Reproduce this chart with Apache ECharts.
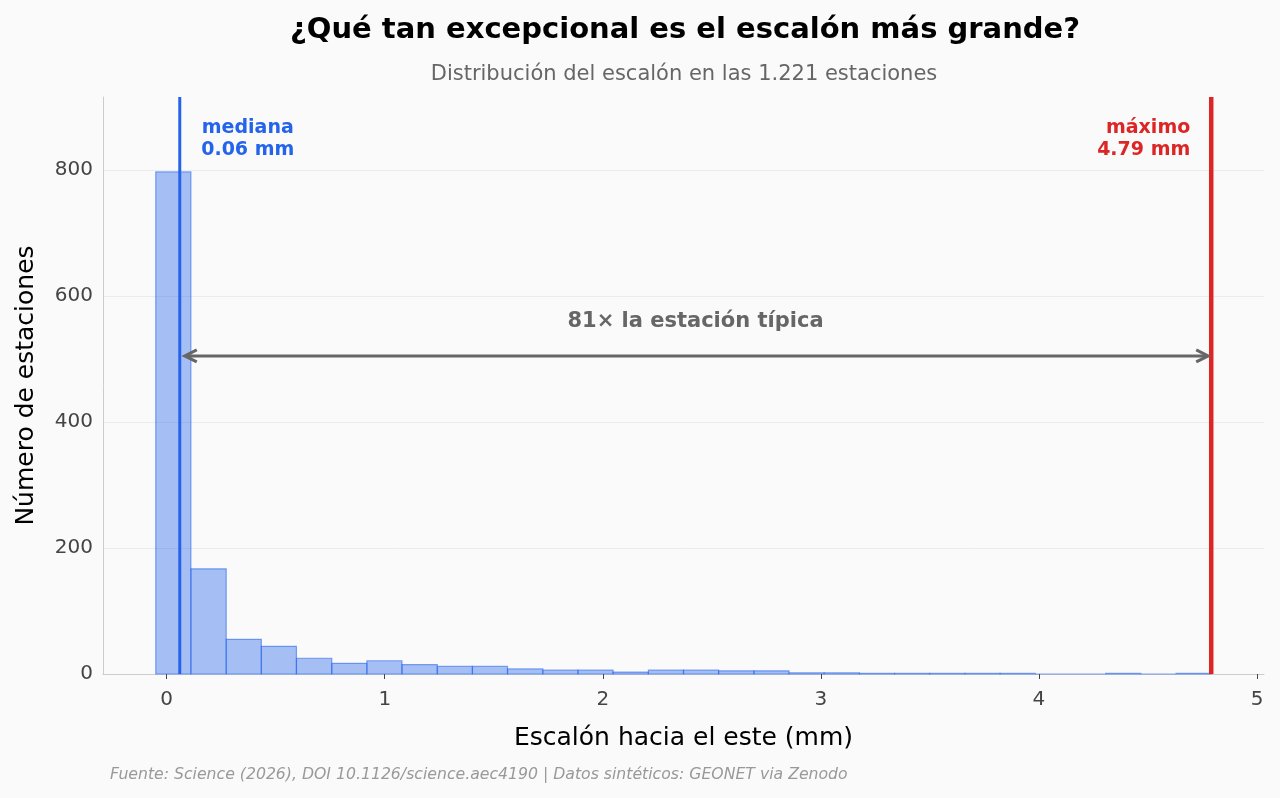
<!DOCTYPE html>
<html>
<head>
<meta charset="utf-8">
<script src="https://cdn.jsdelivr.net/npm/echarts@6/dist/echarts.min.js"></script>
<style>
html, body { margin: 0; padding: 0; background: #fafafa; }
#chart { width: 1280px; height: 798px; }
</style>
</head>
<body>
<div id="chart"></div>
<script>
// bordes de las clases del histograma (mm)
var binEdges = [-0.050, 0.111, 0.273, 0.434, 0.595, 0.757, 0.918, 1.079, 1.241, 1.402,
	1.563, 1.725, 1.886, 2.047, 2.209, 2.370, 2.531, 2.693, 2.854, 3.015,
	3.177, 3.338, 3.499, 3.661, 3.822, 3.983, 4.145, 4.306, 4.467, 4.629, 4.790];
// número de estaciones en cada clase
var counts = [797, 167, 55, 44, 25, 17, 21, 15, 12, 12, 8, 6, 6, 3, 6,
	6, 5, 5, 2, 2, 1, 1, 1, 1, 1, 0, 0, 1, 0, 1];
var xTicks = [0, 1, 2, 3, 4, 5];
var yTicks = [0, 200, 400, 600, 800];
var medianVal = 0.06;
var maxVal = 4.79;
var arrowY = 505;
var xMin = -0.292, xMax = 5.032, yMax = 916;

var FONT = '"DejaVu Sans", sans-serif';

var bins = [];
for (var i = 0; i < counts.length; i++) {
	bins.push([binEdges[i], binEdges[i + 1], counts[i]]);
}

function renderBar(params, api) {
	var p1 = api.coord([api.value(0), api.value(2)]);
	var p2 = api.coord([api.value(1), 0]);
	return {
		type: 'rect',
		shape: { x: p1[0], y: p1[1], width: p2[0] - p1[0], height: p2[1] - p1[1] },
		style: {
			fill: 'rgba(37,99,235,0.4)',
			stroke: 'rgba(37,99,235,0.55)',
			lineWidth: 1.2
		}
	};
}

function renderNotes(params, api) {
	var top = api.coord([0, yMax])[1];
	var bottom = api.coord([0, 0])[1];
	var xMed = api.coord([medianVal, 0])[0];
	var xMx = api.coord([maxVal, 0])[0];
	var ay = api.coord([0, arrowY])[1];
	var x1 = xMed + 5, x2 = xMx - 3;
	var head = 12, hw = 6;
	var arrowStyle = { stroke: '#666666', lineWidth: 3, fill: null, lineJoin: 'miter' };
	return {
		type: 'group',
		children: [
			{ type: 'line', shape: { x1: xMed, y1: top, x2: xMed, y2: bottom },
				style: { stroke: '#2563eb', lineWidth: 3 } },
			{ type: 'line', shape: { x1: xMx, y1: top, x2: xMx, y2: bottom },
				style: { stroke: '#dc2626', lineWidth: 4.5 } },
			{ type: 'line', shape: { x1: x1 + 2, y1: ay, x2: x2 - 2, y2: ay }, style: arrowStyle },
			{ type: 'polyline', shape: { points: [[x1 + head, ay - hw], [x1, ay], [x1 + head, ay + hw]] }, style: arrowStyle },
			{ type: 'polyline', shape: { points: [[x2 - head, ay - hw], [x2, ay], [x2 - head, ay + hw]] }, style: arrowStyle },
			{ type: 'text', style: {
				text: '81× la estación típica', x: (xMed + xMx) / 2, y: ay - 34,
				align: 'center', verticalAlign: 'middle',
				font: 'bold 21px ' + FONT, fill: '#666666' } },
			{ type: 'text', style: {
				text: 'mediana\n0.06 mm', x: xMed + 68, y: top + 20,
				align: 'center', verticalAlign: 'top', lineHeight: 22,
				font: 'bold 19px ' + FONT, fill: '#2563eb' } },
			{ type: 'text', style: {
				text: 'máximo\n4.79 mm', x: xMx - 21, y: top + 20,
				align: 'right', verticalAlign: 'top', lineHeight: 22,
				font: 'bold 19px ' + FONT, fill: '#dc2626' } }
		]
	};
}

var chart = echarts.init(document.getElementById('chart'));
var option = {
	backgroundColor: '#fafafa',
	animation: false,
	title: [
		{
			text: '¿Qué tan excepcional es el escalón más grande?',
			left: 680, top: 11, textAlign: 'center',
			textStyle: { fontFamily: FONT, fontSize: 29, fontWeight: 'bold', color: '#000000' }
		},
		{
			text: 'Distribución del escalón en las 1.221 estaciones',
			left: 679, top: 59, textAlign: 'center',
			textStyle: { fontFamily: FONT, fontSize: 21, fontWeight: 'normal', color: '#666666' }
		},
		{
			text: 'Fuente: Science (2026), DOI 10.1126/science.aec4190 | Datos sintéticos: GEONET via Zenodo',
			left: 105, top: 762,
			textStyle: { fontFamily: FONT, fontSize: 15.7, fontWeight: 'normal', fontStyle: 'italic', color: '#999999' }
		}
	],
	grid: { left: 103, right: 16, top: 97, bottom: 124, containLabel: false },
	xAxis: {
		type: 'value',
		min: xMin, max: xMax,
		name: 'Escalón hacia el este (mm)',
		nameLocation: 'middle', nameGap: 52,
		nameTextStyle: { fontFamily: FONT, fontSize: 25, color: '#000000' },
		axisLine: { show: true, onZero: false, lineStyle: { color: '#cccccc', width: 1 } },
		axisTick: { show: true, customValues: xTicks, length: 5, lineStyle: { color: '#444444', width: 1 } },
		axisLabel: { customValues: xTicks, margin: 16, fontFamily: FONT, fontSize: 20, color: '#444444' },
		splitLine: { show: false }
	},
	yAxis: {
		type: 'value',
		min: 0, max: yMax, interval: 200,
		name: 'Número de estaciones',
		nameLocation: 'middle', nameGap: 64,
		nameTextStyle: { fontFamily: FONT, fontSize: 25, color: '#000000' },
		axisLine: { show: true, onZero: false, lineStyle: { color: '#cccccc', width: 1 } },
		axisTick: { show: false },
		axisLabel: { customValues: yTicks, margin: 10, fontFamily: FONT, fontSize: 20, color: '#444444' },
		splitLine: { show: true, showMaxLine: false, showMinLine: false, lineStyle: { color: '#ebebeb', width: 1 } }
	},
	series: [
		{
			type: 'custom',
			renderItem: renderBar,
			data: bins,
			encode: { x: [0, 1], y: 2 },
			z: 2
		},
		{
			type: 'custom',
			renderItem: renderNotes,
			data: [[0, 0, 0]],
			silent: true,
			z: 3
		}
	]
};
chart.setOption(option);
</script>
</body>
</html>
